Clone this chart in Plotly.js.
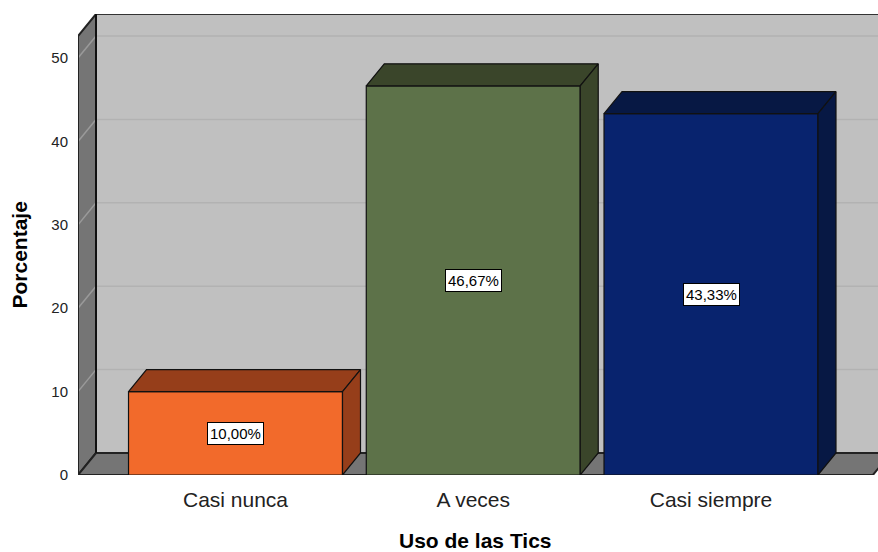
<!DOCTYPE html>
<html>
<head>
<meta charset="utf-8">
<script src="https://cdn.plot.ly/plotly-3.0.1.min.js"></script>
<style>html,body{margin:0;padding:0;background:#fff;}#chart{width:878px;height:552px;}</style>
</head>
<body>
<div id="chart"></div>
<script>
// Data
const categories = ["Casi nunca", "A veces", "Casi siempre"];
const percentages = [10.00, 46.67, 43.33];
const frontColors = ["#f26a2b", "#5d7249", "#08236e"];
const darkColors = ["#963e1a", "#3a452a", "#071844"];
const yTicks = [0, 10, 20, 30, 40, 50];
const xTitle = "Uso de las Tics";
const yTitle = "Porcentaje";

// Geometry (in axis units)
const xMin = -0.6625, xMax = 2.7024;
const yMax = 55.28;
const dx = 18 / 237.75;   // depth offset in x units
const dy = 22 / 8.34;     // depth offset in y units
const barW = 0.9;
const floorRight = 2.681;
const wallTop = 52.64;

const idx = categories.map((_, i) => i);
const traces = [];

traces.push({
  type: "bar",
  x: idx,
  y: percentages,
  width: barW,
  marker: { color: frontColors, line: { color: "#111", width: 1.2 } },
  hoverinfo: "skip",
  showlegend: false
});

idx.forEach(i => {
  const v = percentages[i];
  const l = i - barW / 2, r = i + barW / 2;
  traces.push({
    type: "scatter", mode: "lines", fill: "toself",
    x: [l, r, r + dx, l + dx, l],
    y: [v, v, v + dy, v + dy, v],
    fillcolor: darkColors[i], line: { color: "#111", width: 1.2 },
    hoverinfo: "skip", showlegend: false
  });
  traces.push({
    type: "scatter", mode: "lines", fill: "toself",
    x: [r, r + dx, r + dx, r, r],
    y: [0, dy, v + dy, v, 0],
    fillcolor: darkColors[i], line: { color: "#111", width: 1.2 },
    hoverinfo: "skip", showlegend: false
  });
});

const shapes = [];
// back wall
shapes.push({ type: "rect", xref: "x", yref: "y", layer: "below",
  x0: xMin + dx, x1: xMax + 0.2, y0: dy, y1: wallTop + dy,
  fillcolor: "#c0c0c0", line: { color: "#333", width: 2 } });
// side wall
shapes.push({ type: "path", xref: "x", yref: "y", layer: "below",
  path: `M ${xMin} 0 L ${xMin} ${wallTop} L ${xMin + dx} ${wallTop + dy} L ${xMin + dx} ${dy} Z`,
  fillcolor: "#757575", line: { color: "#222", width: 2 } });
// floor
shapes.push({ type: "path", xref: "x", yref: "y", layer: "below",
  path: `M ${xMin} 0 L ${floorRight} 0 L ${floorRight + dx} ${dy} L ${xMin + dx} ${dy} Z`,
  fillcolor: "#757575", line: { color: "#222", width: 2 } });
// gridlines
yTicks.slice(1).forEach(t => {
  shapes.push({ type: "line", xref: "x", yref: "y", layer: "below",
    x0: xMin + dx, x1: xMax + 0.2, y0: t + dy, y1: t + dy,
    line: { color: "#b2b2b2", width: 1.5 } });
  shapes.push({ type: "line", xref: "x", yref: "y", layer: "below",
    x0: xMin, x1: xMin + dx, y0: t, y1: t + dy,
    line: { color: "#9a9a9a", width: 1.5 } });
});
// redraw edges on top of gridlines
shapes.push({ type: "line", xref: "x", yref: "y", layer: "below",
  x0: xMin + dx, x1: xMin + dx, y0: dy, y1: wallTop + dy,
  line: { color: "#111", width: 2 } });
shapes.push({ type: "line", xref: "x", yref: "y", layer: "below",
  x0: xMin, x1: xMin, y0: 0, y1: wallTop,
  line: { color: "#222", width: 2 } });

const FONT = "Liberation Sans, Arial, sans-serif";
const annotations = idx.map(i => ({
  x: i, y: percentages[i] / 2, xref: "x", yref: "y",
  text: percentages[i].toFixed(2).replace(".", ",") + "%",
  showarrow: false,
  font: { family: FONT, size: 15, color: "#000" },
  bgcolor: "#fff", bordercolor: "#000", borderwidth: 1, borderpad: 2
}));
annotations.push({
  x: (xMin + floorRight) / 2, xref: "x", y: -0.143, yref: "paper",
  text: "<b>" + xTitle + "</b>", showarrow: false,
  xanchor: "center", yanchor: "middle",
  font: { family: FONT, size: 21, color: "#000" }
});
annotations.push({
  x: -0.0725, xref: "paper", y: wallTop / 2, yref: "y",
  text: "<b>" + yTitle + "</b>", showarrow: false, textangle: -90,
  xanchor: "center", yanchor: "middle",
  font: { family: FONT, size: 21, color: "#000" }
});

const layout = {
  width: 878, height: 552,
  margin: { l: 78, r: 0, t: 14, b: 77 },
  paper_bgcolor: "#fff",
  plot_bgcolor: "rgba(0,0,0,0)",
  font: { family: FONT, color: "#222" },
  xaxis: {
    range: [xMin, xMax], showgrid: false, zeroline: false, showline: false,
    tickvals: idx, ticktext: categories, ticks: "outside", ticklen: 6,
    tickcolor: "rgba(0,0,0,0)", tickfont: { size: 21, color: "#222" },
    fixedrange: true
  },
  yaxis: {
    range: [0, yMax], showgrid: false, zeroline: false, showline: false,
    tickvals: yTicks, ticks: "outside", ticklen: 6, tickcolor: "rgba(0,0,0,0)",
    tickfont: { size: 15, color: "#222" },
    fixedrange: true
  },
  shapes: shapes,
  annotations: annotations,
  showlegend: false
};

Plotly.newPlot("chart", traces, layout, { displayModeBar: false, staticPlot: true });
</script>
</body>
</html>
